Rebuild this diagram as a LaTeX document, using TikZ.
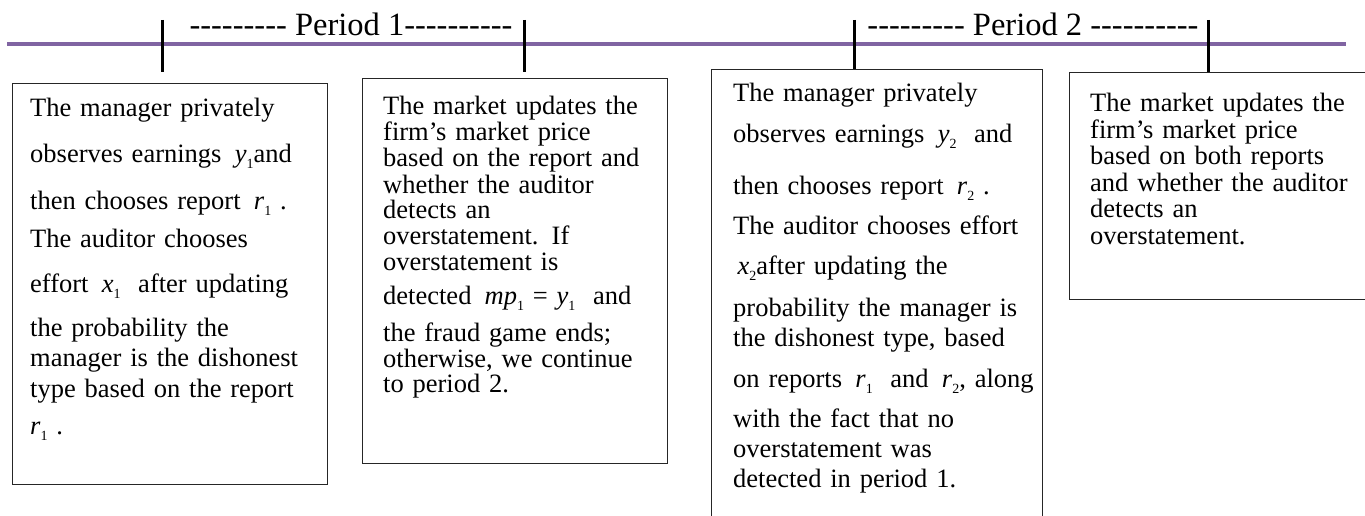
\documentclass[tikz,border=0pt]{standalone}
\usepackage{fontspec}
\setmainfont{Liberation Serif}
\usetikzlibrary{positioning}

\definecolor{timelinepurple}{RGB}{128,100,162}

% italic variable with a small lowered index, as in the original
\newcommand{\mvar}[2]{\textit{#1}\raisebox{-6pt}{\fontsize{14}{14}\selectfont #2}}
% a run of plain hyphens (no en-dash ligature)
\newcommand{\dashrun}[1]{\foreach \k in {1,...,#1}{-\kern0pt}}

\tikzset{
  timeline/.style={line width=3.5pt, timelinepurple},
  tickmark/.style={line width=3pt, black},
  periodlabel/.style={anchor=base, inner sep=0pt, font=\fontsize{32.5}{32.5}\selectfont},
  stagebox/.style={draw=black!85, line width=1.3pt, fill=white, inner sep=0pt,
    anchor=north west},
  stagetext/.style={anchor=base west, inner sep=0pt, align=left, text width=320pt,
    font=\fontsize{26.5}{30}\selectfont},
}

\begin{document}
\begin{tikzpicture}[x=1pt, y=-1pt]
        \useasboundingbox (0,0) rectangle (1365,516);
        \clip (0,0) rectangle (1365,516);

        % 1. Timeline with the four tick marks
        \draw[timeline] (7,44) -- (1346,44);
        \foreach \tx in {162,524,854,1208}
            \draw[tickmark] (\tx,20) -- (\tx,72);

        % 2. Period labels
        \node[periodlabel] (period1) at (351,36) {\dashrun{9} Period 1\dashrun{10}};
        \node[periodlabel] (period2) at (1033,36) {\dashrun{9} Period 2 \dashrun{10}};

        % 3. Boxes
        \node[stagebox, minimum width=315pt, minimum height=401pt] (box1) at (12,83) {};
        \node[stagebox, minimum width=305pt, minimum height=385pt] (box2) at (362,78) {};
        \node[stagebox, minimum width=331pt, minimum height=480pt] (box3) at (711,69) {};
        \node[stagebox, minimum width=320pt, minimum height=227pt] (box4) at (1069,72) {};

        % 4. Texts in the boxes
        \node[stagetext] (text1) at (30,117) {%
            The manager privately\\[16pt]
            observes earnings \,\mvar{y}{1}and\\[17pt]
            then chooses report \,\mvar{r}{1}\ .\\[8pt]
            The auditor chooses\\[15pt]
            effort \,\mvar{x}{1}\ \ after updating\\[14pt]
            the probability the\\
            manager is the dishonest\\[1pt]
            type based on the report\\[7pt]
            \mvar{r}{1}\ .};

        \node[stagetext, font=\fontsize{26.5}{26}\selectfont] (text2) at (383,115) {%
            The market updates the\\
            firm’s market price\\
            based on the report and\\
            whether the auditor\\
            detects an\\
            overstatement. If\\
            overstatement is\\[8pt]
            detected \,\mvar{mp}{1}\ =\ \mvar{y}{1}\ \ and\\[10pt]
            the fraud game ends;\\
            otherwise, we continue\\
            to period 2.};

        \node[stagetext] (text3) at (733,102) {%
            The manager privately\\[11pt]
            observes earnings \,\mvar{y}{2}\ \ and\\[22pt]
            then chooses report \,\mvar{r}{2}\ .\\[10pt]
            The auditor chooses effort\\[10pt]
            \,\mvar{x}{2}after updating the\\[12pt]
            probability the manager is\\
            the dishonest type, based\\[11pt]
            on reports \,\mvar{r}{1}\ \ and \,\mvar{r}{2}, along\\[10pt]
            with the fact that no\\
            overstatement was\\
            detected in period 1.};

        \node[stagetext, font=\fontsize{26.5}{26.5}\selectfont] (text4) at (1090,112) {%
            The market updates the\\
            firm’s market price\\
            based on both reports\\
            and whether the auditor\\
            detects an\\
            overstatement.};

    \end{tikzpicture}
\end{document}
